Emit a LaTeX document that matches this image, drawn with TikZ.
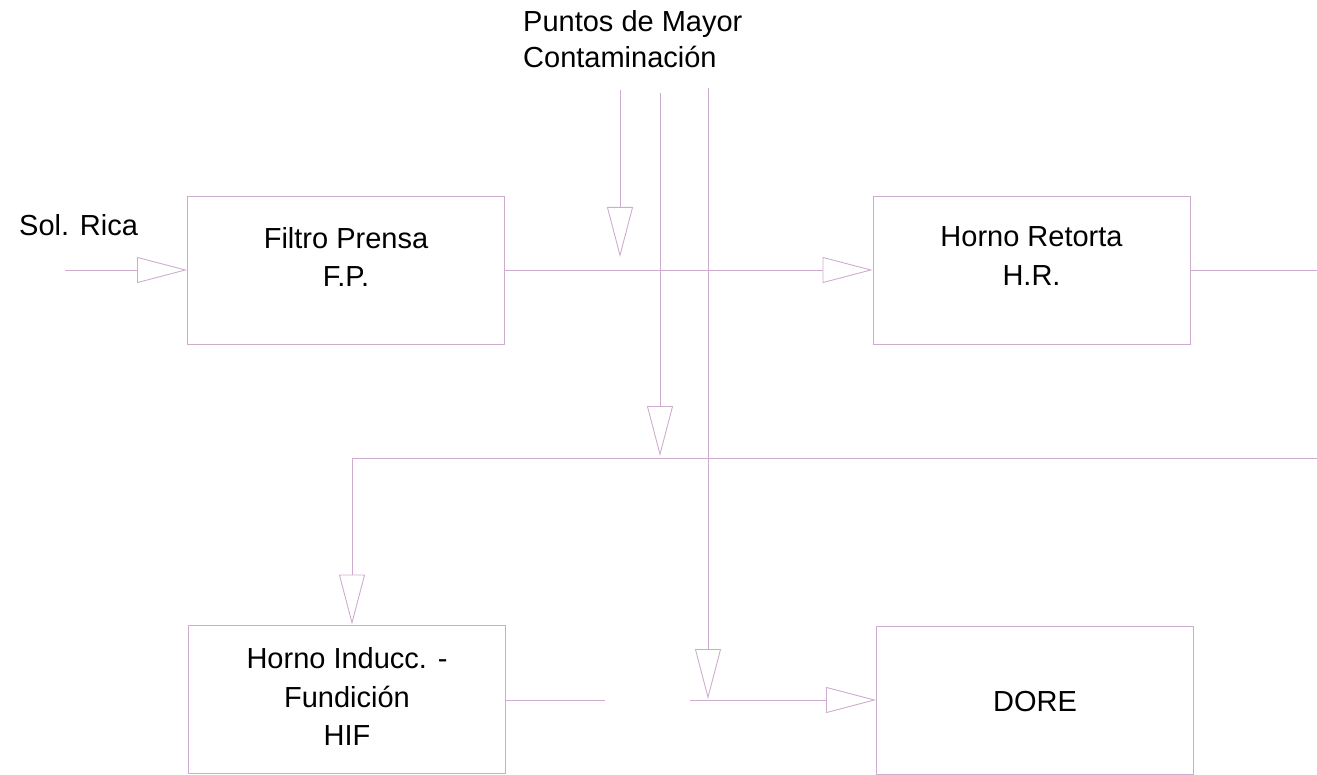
\documentclass[tikz,border=0pt]{standalone}
\usepackage{fontspec}
\setmainfont{Liberation Sans}
\usetikzlibrary{arrows.meta}
\definecolor{pipeMauve}{RGB}{206,172,206}
\tikzset{
  unitBox/.style={draw=pipeMauve, line width=0.9pt, minimum width=317pt, minimum height=148pt, inner sep=0pt},
  unitText/.style={anchor=base, inner sep=0pt, font=\fontsize{29}{38}\selectfont},
  pipe/.style={draw=pipeMauve, line width=0.9pt},
  pipeArrow/.style={pipe, -{Triangle[open, length=50pt, width=26pt]}}
}

\begin{document}
\begin{tikzpicture}[x=1pt,y=-1pt]
\useasboundingbox (0,0) rectangle (1317,775);
\node[unitBox] (fp) at (346,270) {};
\node[unitBox] (hr) at (1031.5,270) {};
\node[unitBox] (hif) at (347,699) {};
\node[unitBox] (dore) at (1035,700) {};
\node[unitText, anchor=base west] (titleA) at (523,32) {Puntos de Mayor};
\node[unitText, anchor=base west] (titleB) at (523,68) {Contaminación};
\node[unitText, anchor=base west] (solRica) at (19,236) {Sol. Rica};
\node[unitText] (fpA) at (346,249) {Filtro Prensa};
\node[unitText] (fpB) at (346,287) {F.P.};
\node[unitText] (hrA) at (1031.5,247) {Horno Retorta};
\node[unitText] (hrB) at (1031.5,286) {H.R.};
\node[unitText] (hifA) at (347,668) {Horno Inducc. -};
\node[unitText] (hifB) at (347,707) {Fundición};
\node[unitText] (hifC) at (347,745) {HIF};
\node[unitText] (doreA) at (1035,711) {DORE};
\coordinate (solIn) at (65,270);
\coordinate (hrOut) at (1317,270);
\coordinate (topA) at (620,90);
\coordinate (tipA) at (620,257);
\coordinate (topB) at (660,93);
\coordinate (tipB) at (660,456);
\coordinate (topC) at (708,88);
\coordinate (tipC) at (708,699);
\coordinate (mixEnd) at (1317,458);
\coordinate (mixBend) at (352,458);
\coordinate (hifOut) at (605,700);
\coordinate (doreIn) at (690,700);
\draw[pipeArrow] (solIn) -- (fp.west);
\draw[pipeArrow] (fp.east) -- (hr.west);
\draw[pipe] (hr.east) -- (hrOut);
\draw[pipeArrow] (topA) -- (tipA);
\draw[pipeArrow] (topB) -- (tipB);
\draw[pipeArrow] (topC) -- (tipC);
\draw[pipeArrow] (mixEnd) -- (mixBend) -- (mixBend |- hif.north);
\draw[pipe] (hif.east |- hifOut) -- (hifOut);
\draw[pipeArrow] (doreIn) -- (dore.west);
\end{tikzpicture}
\end{document}
